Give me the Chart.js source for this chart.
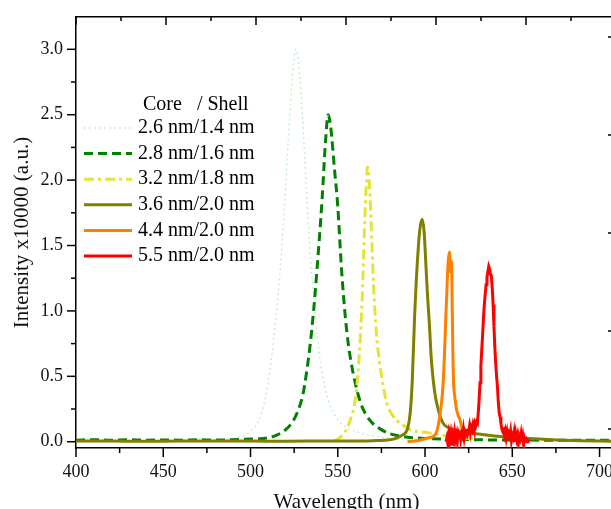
<!DOCTYPE html>
<html>
<head>
<meta charset="utf-8">
<script src="https://cdn.jsdelivr.net/npm/chart.js@4/dist/chart.umd.min.js"></script>
<style>
  html, body { margin: 0; padding: 0; background: #ffffff; overflow: hidden; }
  .clip { width: 611px; height: 509px; overflow: hidden; }
</style>
</head>
<body>
<div class="clip"><canvas id="spectra" width="640" height="509"></canvas></div>
<script>
// Core/shell PL spectra
const labels = ['2.6 nm/1.4 nm', '2.8 nm/1.6 nm', '3.2 nm/1.8 nm', '3.6 nm/2.0 nm', '4.4 nm/2.0 nm', '5.5 nm/2.0 nm'];

const wl26 = [470, 480, 490, 495, 500, 505, 508, 510, 513, 516, 519, 521, 523, 525, 526, 527, 529, 531, 533, 535, 537, 539, 541, 545, 550, 555, 560, 565, 570, 580, 590];
const int26 = [0.005, 0.01, 0.025, 0.04, 0.08, 0.17, 0.3, 0.45, 0.75, 1.15, 1.7, 2.15, 2.6, 2.93, 3.0, 2.95, 2.65, 2.2, 1.7, 1.3, 1.0, 0.72, 0.52, 0.3, 0.17, 0.11, 0.08, 0.06, 0.045, 0.025, 0.015];

const wl28 = [400, 410, 420, 430, 440, 450, 460, 470, 480, 490, 500, 505, 510, 515, 520, 524, 527, 530, 532, 534, 536, 538, 541, 543, 544.5, 546, 548, 550, 552, 554, 556, 558, 560, 563, 566, 570, 574, 580, 585, 590, 600, 610, 620, 630, 650, 670, 690, 710];
const int28 = [0.012, 0.016, 0.012, 0.015, 0.012, 0.014, 0.012, 0.015, 0.013, 0.015, 0.02, 0.022, 0.03, 0.05, 0.09, 0.15, 0.23, 0.36, 0.52, 0.72, 0.98, 1.3, 1.85, 2.3, 2.5, 2.4, 2.1, 1.8, 1.35, 1.0, 0.75, 0.58, 0.45, 0.3, 0.21, 0.14, 0.1, 0.06, 0.045, 0.035, 0.025, 0.02, 0.018, 0.015, 0.013, 0.012, 0.012, 0.012];

const wl32 = [548, 551, 554, 557, 560, 562, 564, 565.5, 566.5, 567, 568, 569, 570.5, 572, 574, 575.5, 578, 582, 587, 592, 601, 610, 620, 630];
const int32 = [0.005, 0.03, 0.07, 0.16, 0.32, 0.6, 1.1, 1.7, 2.0, 2.1, 2.0, 1.7, 1.2, 0.85, 0.6, 0.47, 0.3, 0.19, 0.13, 0.09, 0.07, 0.05, 0.03, 0.02];

const wl36 = [400, 420, 440, 460, 480, 500, 520, 540, 560, 570, 580, 584, 587, 590, 591.5, 592.7, 594, 595.5, 597, 598.4, 599.5, 600.5, 601.5, 602.5, 603.5, 604.7, 606, 607.5, 610, 613, 617, 624, 633, 643, 660, 680, 700, 710];
const int36 = [0.005, 0.005, 0.004, 0.005, 0.005, 0.005, 0.004, 0.005, 0.006, 0.008, 0.015, 0.03, 0.05, 0.1, 0.22, 0.47, 0.95, 1.35, 1.62, 1.7, 1.6, 1.35, 1.1, 0.9, 0.65, 0.47, 0.34, 0.25, 0.15, 0.11, 0.09, 0.07, 0.055, 0.04, 0.025, 0.012, 0.005, 0.004];

const wl44 = [590, 594, 598, 602, 604.7, 606.5, 607.5, 608.7, 609.7, 610.5, 611.5, 612.5, 613.3, 614, 614.6, 615.2, 615.6, 616, 616.3, 617, 618, 619, 620, 621, 622, 623, 624];
const int44 = [0.0, 0.005, 0.015, 0.03, 0.04, 0.07, 0.12, 0.22, 0.33, 0.47, 0.8, 1.15, 1.38, 1.45, 1.3, 1.38, 1.0, 0.65, 0.47, 0.35, 0.25, 0.2, 0.17, 0.11, 0.07, 0.04, 0.02];

const wl55 = [612, 612.5, 613, 613.5, 614, 614.5, 615, 615.5, 616, 616.5, 617, 617.5, 618, 618.5, 619, 619.5, 620, 620.5, 621, 621.5, 622, 622.5, 623, 623.5, 624, 624.5, 625, 625.5, 626, 626.5, 627, 627.5, 628, 628.5, 629, 629.5, 630, 630.5, 631, 631.5, 632, 632.5, 633, 633.5, 634, 634.5, 635, 635.5, 636, 636.5, 637, 637.5, 638, 638.5, 639, 639.5, 640, 640.5, 641, 641.5, 642, 642.5, 643, 643.5, 644, 644.5, 645, 645.5, 646, 646.5, 647, 647.5, 648, 648.5, 649, 649.5, 650, 650.5, 651, 651.5, 652, 652.5, 653, 653.5, 654, 654.5, 655, 655.5, 656, 656.5, 657, 657.5, 658, 658.5, 659, 660];
const int55 = [0.0, 0.03, -0.01, 0.05, 0.0, 0.06, 0.02, -0.02, 0.04, 0.01, 0.07, 0.02, 0.05, 0.0, 0.06, 0.03, 0.08, 0.02, 0.06, 0.04, 0.09, 0.03, 0.07, 0.05, 0.1, 0.06, 0.08, 0.12, 0.07, 0.11, 0.09, 0.13, 0.1, 0.14, 0.12, 0.15, 0.14, 0.22, 0.32, 0.45, 0.58, 0.7, 0.82, 0.95, 1.05, 1.13, 1.2, 1.26, 1.3, 1.34, 1.32, 1.28, 1.27, 1.18, 1.05, 0.88, 0.72, 0.6, 0.5, 0.42, 0.3, 0.22, 0.19, 0.14, 0.1, 0.08, 0.09, 0.05, 0.08, 0.03, 0.07, 0.02, 0.06, 0.04, 0.08, 0.01, 0.05, 0.03, 0.07, 0.0, 0.06, 0.02, 0.05, -0.01, 0.04, 0.02, 0.06, 0.0, 0.04, -0.02, 0.03, 0.01, 0.02, 0.0, 0.01, 0.0];

const xTicks = [400, 450, 500, 550, 600, 650, 700];
const yTicks = [0.0, 0.5, 1.0, 1.5, 2.0, 2.5, 3.0];

function toPoints(xs, ys) {
    return xs.map((x, i) => ({ x: x, y: ys[i] }));
}

const serif = 'Liberation Serif, Times New Roman, serif';

// frame ticks: major/minor, drawn on each side of the box
const tickMarks = {
    id: 'tickMarks',
    afterDraw(chart) {
        const c = chart.ctx;
        const s = chart.scales;
        const a = chart.chartArea;
        c.save();
        c.strokeStyle = '#000';
        c.lineWidth = 1.5;
        const seg = (x1, y1, x2, y2) => { c.beginPath(); c.moveTo(x1, y1); c.lineTo(x2, y2); c.stroke(); };
        for (let v = 400; v <= s.x.max; v += 25) {
            const px = s.x.getPixelForValue(v);
            seg(px, a.bottom, px, a.bottom + (v % 50 === 0 ? 9 : 5));
        }
        for (let v = 0; v <= s.y.max; v += 0.25) {
            const py = s.y.getPixelForValue(v);
            seg(a.left, py, a.left - (Math.abs(v * 2 - Math.round(v * 2)) < 1e-6 ? 9 : 5), py);
        }
        for (let v = 0; v <= s.x2.max; v += 0.5) {
            const px = s.x2.getPixelForValue(v);
            seg(px, a.top, px, a.top + (v % 1 === 0 ? 8 : 4));
        }
        for (let v = 0; v <= s.y2.max; v += 1) {
            const py = s.y2.getPixelForValue(v);
            seg(a.right, py, a.right - 9, py);
        }
        c.restore();
    }
};

// legend inside the plot, with the "Core / Shell" header
const insideLegend = {
    id: 'insideLegend',
    afterDatasetsDraw(chart) {
        const c = chart.ctx;
        c.save();
        c.fillStyle = '#000';
        c.font = '20px ' + serif;
        c.textBaseline = 'middle';
        c.textAlign = 'left';
        c.fillText('Core   / Shell', 143, 105);
        chart.data.datasets.forEach((ds, i) => {
            const y = 128 + i * 25.6;
            c.strokeStyle = ds.borderColor;
            c.lineWidth = ds.borderWidth;
            c.setLineDash(ds.borderDash || []);
            c.beginPath();
            c.moveTo(84, y);
            c.lineTo(132, y);
            c.stroke();
            c.setLineDash([]);
            c.fillText(ds.label, 138, y);
        });
        c.restore();
    }
};

const ctx = document.getElementById('spectra').getContext('2d');

const chartConfig = {
    type: 'line',
    data: {
        datasets: [
            { label: labels[0], data: toPoints(wl26, int26), borderColor: '#c8f0c8', borderWidth: 1.5, borderDash: [2, 3], order: 5 },
            { label: labels[1], data: toPoints(wl28, int28), borderColor: '#008000', borderWidth: 3, borderDash: [9, 5], order: 4 },
            { label: labels[2], data: toPoints(wl32, int32), borderColor: '#e4e436', borderWidth: 3, borderDash: [10, 4, 3, 4], order: 3 },
            { label: labels[3], data: toPoints(wl36, int36), borderColor: '#808000', borderWidth: 3, order: 2 },
            { label: labels[4], data: toPoints(wl44, int44), borderColor: '#ff8000', borderWidth: 3, order: 1 },
            { label: labels[5], data: toPoints(wl55, int55), borderColor: '#ff0000', borderWidth: 3, tension: 0, cubicInterpolationMode: 'default', order: 0 }
        ]
    },
    options: {
        responsive: false,
        animation: false,
        devicePixelRatio: 1,
        layout: { padding: 0 },
        elements: {
            point: { radius: 0 },
            line: { cubicInterpolationMode: 'monotone', fill: false }
        },
        plugins: {
            legend: { display: false },
            tooltip: { enabled: false }
        },
        scales: {
            x: {
                type: 'linear',
                position: 'bottom',
                min: 400,
                max: 710,
                afterFit: (s) => { s.height = 61; },
                afterBuildTicks: (s) => { s.ticks = xTicks.map(v => ({ value: v })); },
                grid: { display: false },
                border: { display: true, color: '#000', width: 1.5 },
                ticks: { color: '#111', font: { family: serif, size: 18 }, padding: 5, maxRotation: 0 },
                title: { display: true, text: 'Wavelength (nm)', color: '#111', font: { family: serif, size: 21 }, padding: { top: 0, bottom: -6 } }
            },
            x2: {
                type: 'linear',
                position: 'top',
                min: 0,
                max: 541 / 90,
                afterFit: (s) => { s.height = 17; },
                grid: { display: false },
                border: { display: true, color: '#000', width: 1.5 },
                ticks: { display: false }
            },
            y: {
                type: 'linear',
                position: 'left',
                min: -0.048,
                max: 3.247,
                afterFit: (s) => { s.width = 76; },
                afterBuildTicks: (s) => { s.ticks = yTicks.map(v => ({ value: v })); },
                grid: { display: false },
                border: { display: true, color: '#000', width: 1.5 },
                ticks: { color: '#111', font: { family: serif, size: 18 }, padding: 5, callback: (v) => v.toFixed(1) },
                title: { display: true, text: 'Intensity x10000 (a.u.)', color: '#111', font: { family: serif, size: 21 }, padding: { top: 10, bottom: 0 } }
            },
            y2: {
                type: 'linear',
                position: 'right',
                min: -0.194,
                max: 4.204,
                afterFit: (s) => { s.width = 23; },
                grid: { display: false },
                border: { display: true, color: '#000', width: 1.5 },
                ticks: { display: false }
            }
        }
    },
    plugins: [tickMarks, insideLegend]
};

let myChart = new Chart(ctx, chartConfig);
</script>
</body>
</html>
